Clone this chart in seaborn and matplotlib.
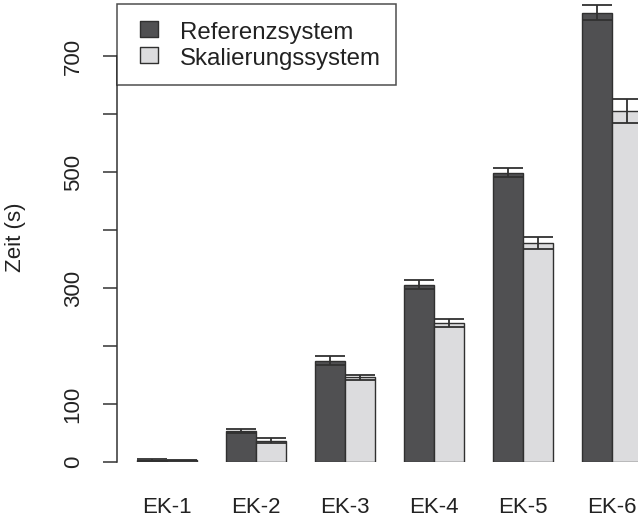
import numpy as np
import pandas as pd
import matplotlib
matplotlib.use("Agg")
import matplotlib.pyplot as plt
import seaborn as sns
from matplotlib.lines import Line2D
from matplotlib.path import Path

categories = ["EK-1", "EK-2", "EK-3", "EK-4", "EK-5", "EK-6"]
systems = ["Referenzsystem", "Skalierungssystem"]
ref_mean = [4, 53, 175, 306, 499, 775]
ref_sd = [1.5, 3.7, 7.5, 8, 8, 13]
skal_mean = [3, 37, 146, 239, 378, 605]
skal_sd = [1, 5, 4, 7, 10, 21]
yticks = [0, 100, 200, 300, 400, 500, 600, 700]
ytick_labels = ["0", "100", "", "300", "", "500", "", "700"]

colors = {"Referenzsystem": "#505052", "Skalierungssystem": "#dcdcde"}
edge = "#303030"

df = pd.DataFrame({
    "cat": categories * 2,
    "system": [systems[0]] * len(categories) + [systems[1]] * len(categories),
    "value": ref_mean + skal_mean,
    "sd": ref_sd + skal_sd,
})

sns.set_style("white")
plt.rcParams["font.family"] = ["Liberation Sans", "DejaVu Sans"]

fig = plt.figure(figsize=(6.38, 5.23), dpi=100)
ax = fig.add_axes([117 / 638, (523 - 462) / 523, 521 / 638, 462 / 523])

sns.barplot(data=df, x="cat", y="value", hue="system", order=categories,
            hue_order=systems, palette=colors, width=0.674, gap=0,
            edgecolor=edge, linewidth=1.0, errorbar=None, ax=ax, legend=False)

sds = {systems[0]: ref_sd, systems[1]: skal_sd}
for cont, sysname in zip(ax.containers, systems):
    xs = [p.get_x() + p.get_width() / 2 for p in cont.patches]
    hs = [p.get_height() for p in cont.patches]
    ax.errorbar(xs, hs, yerr=sds[sysname], fmt="none", ecolor=edge,
                elinewidth=1.3, capsize=10.8, capthick=1.3, zorder=5)

ax.set_xlim(-0.5618, 5.292)
ax.set_ylim(0, 462 / 0.58)

for s in ["top", "right", "bottom"]:
    ax.spines[s].set_visible(False)
ax.spines["left"].set_bounds(0, 700)
ax.spines["left"].set_color("#333333")
ax.spines["left"].set_linewidth(1.1)

ax.set_yticks(yticks)
ax.set_yticklabels(ytick_labels, rotation=90, va="center", fontsize=16, color="#222222")
ax.tick_params(axis="y", length=10, width=1.1, color="#333333", pad=14, left=True)
ax.tick_params(axis="x", length=0, pad=25, labelsize=16, labelcolor="#222222")
ax.set_xlabel("")
ax.set_ylabel("Zeit (s)", fontsize=16, color="#222222")
ax.yaxis.set_label_coords(-0.1747, 0.487)

rect = Path([(-0.6, -0.5), (0.6, -0.5), (0.6, 0.5), (-0.6, 0.5), (-0.6, -0.5)],
            [Path.MOVETO, Path.LINETO, Path.LINETO, Path.LINETO, Path.CLOSEPOLY])
handles = [Line2D([], [], linestyle="none", marker=rect, markersize=13,
                  markerfacecolor=colors[s], markeredgecolor=edge, markeredgewidth=1.0)
           for s in systems]
leg = ax.legend(handles, systems, loc="upper left",
                bbox_to_anchor=(0, (462 - 4) / 462), borderaxespad=0,
                fontsize=17.3, frameon=True, fancybox=False, borderpad=0.6,
                handlelength=1.44, handleheight=1.27, handletextpad=0.59,
                labelspacing=0.0)
leg.get_frame().set_edgecolor("#222222")
leg.get_frame().set_linewidth(1.1)
for t in leg.get_texts():
    t.set_color("#222222")

fig.savefig("out.png", dpi=100)
